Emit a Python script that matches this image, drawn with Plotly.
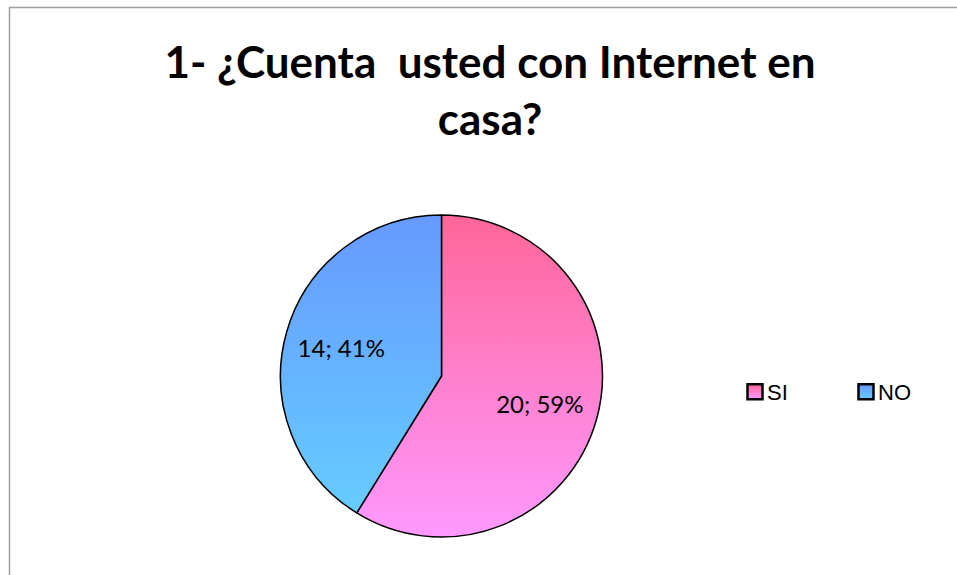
import plotly.graph_objects as go

# ---- data ----
categories = ["SI", "NO"]
values = [20, 14]
title_text = "1- ¿Cuenta  usted con Internet en<br>casa?"

# ---- styles ----
grad_top = ["#FF6699", "#6699FF"]
grad_bottom = ["#FF99FF", "#66CCFF"]
mid_colors = ["#FF80CC", "#66B2FF"]

W, H = 957, 575

fig = go.Figure()
fig.add_trace(go.Pie(
    labels=categories,
    values=values,
    sort=False,
    direction="clockwise",
    rotation=0,
    marker=dict(colors=mid_colors, line=dict(color="black", width=1.5)),
    texttemplate="%{value}; %{percent:.0%}",
    textposition="inside",
    insidetextorientation="horizontal",
    textfont=dict(family="Lato, Calibri, sans-serif", size=24, color="black"),
    domain=dict(x=[280.5 / W, 602.5 / W], y=[(H - 537) / H, (H - 215) / H]),
    hoverinfo="skip",
))

fig.update_layout(
    width=W, height=H,
    margin=dict(l=0, r=0, t=0, b=0),
    paper_bgcolor="white",
    title=dict(
        text=title_text,
        x=490 / W, xanchor="center",
        y=1 - 78 / H, yanchor="top",
        font=dict(family="Lato, Calibri, sans-serif", size=44, color="black", weight="bold"),
    ),
    showlegend=True,
    legend=dict(
        orientation="h",
        x=727 / W, xanchor="left",
        y=1 - 392 / H, yanchor="middle",
        font=dict(family="Liberation Sans, Arial, sans-serif", size=22, color="black"),
        entrywidth=66,
        entrywidthmode="pixels",
        bgcolor="rgba(0,0,0,0)",
    ),
    shapes=[dict(
        type="rect", xref="paper", yref="paper",
        x0=9.5 / W, x1=1.05, y0=-0.05, y1=1 - 7.5 / H,
        line=dict(color="#A0A0A0", width=1.5), fillcolor="rgba(0,0,0,0)",
        layer="below",
    )],
)

post_js = """
(function(){
  document.body.style.margin = '0';
  var gd = document.getElementById('{plot_id}');
  var tops = %s, bots = %s;
  var K = 1.27;
  function apply(){
    var ns = 'http://www.w3.org/2000/svg';
    var svg = gd.querySelector('svg.main-svg');
    var defs = svg.querySelector('defs');
    if(!defs){ defs = document.createElementNS(ns,'defs'); svg.insertBefore(defs, svg.firstChild); }
    for (var i=0;i<tops.length;i++){
      if (document.getElementById('pgrad'+i)) continue;
      var g = document.createElementNS(ns,'linearGradient');
      g.setAttribute('id','pgrad'+i);
      g.setAttribute('x1','0'); g.setAttribute('y1','0');
      g.setAttribute('x2','0'); g.setAttribute('y2','1');
      var s1 = document.createElementNS(ns,'stop'); s1.setAttribute('offset','0'); s1.setAttribute('stop-color',tops[i]);
      var s2 = document.createElementNS(ns,'stop'); s2.setAttribute('offset','1'); s2.setAttribute('stop-color',bots[i]);
      g.appendChild(s1); g.appendChild(s2); defs.appendChild(g);
    }
    var slices = gd.querySelectorAll('g.slice path.surface');
    var minx=1e9, miny=1e9, maxx=-1e9, maxy=-1e9;
    slices.forEach(function(p,i){
      p.style.fill = 'url(#pgrad'+i+')';
      var r = p.getBoundingClientRect();
      minx=Math.min(minx,r.left); maxx=Math.max(maxx,r.right);
      miny=Math.min(miny,r.top); maxy=Math.max(maxy,r.bottom);
    });
    var cx=(minx+maxx)/2, cy=(miny+maxy)/2;
    gd.querySelectorAll('g.slicetext').forEach(function(t){
      if (t.getAttribute('data-mv')) return;
      var b = t.getBoundingClientRect();
      var tx=(b.left+b.right)/2, ty=(b.top+b.bottom)/2;
      var dx=(tx-cx)*(K-1), dy=(ty-cy)*(K-1);
      t.setAttribute('transform','translate('+dx+','+dy+') '+(t.getAttribute('transform')||''));
      t.setAttribute('data-mv','1');
    });
    var leg = gd.querySelectorAll('g.legendpoints path.legendpie');
    leg.forEach(function(p,i){
      p.style.fill = 'url(#pgrad'+i+')';
      p.style.strokeWidth = '2px';
      if (!p.getAttribute('data-sc')) {
        var t = p.getAttribute('transform') || '';
        p.setAttribute('transform', t + ' translate(8,0) scale(1.25)');
        p.setAttribute('data-sc','1');
      }
    });
  }
  apply();
  gd.on && gd.on('plotly_afterplot', apply);
})();
""" % (str(grad_top).replace("'", '"'), str(grad_bottom).replace("'", '"'))

fig.write_html("out.html", post_script=post_js, config={"displayModeBar": False})
